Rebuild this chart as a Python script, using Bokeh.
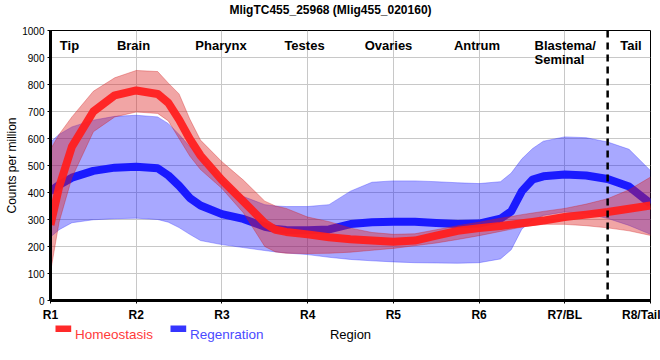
from bokeh.plotting import figure
from bokeh.layouts import column
from bokeh.models import Label, Span
from bokeh.core.properties import value
from bokeh.embed import file_html
from bokeh.resources import INLINE

# ---- data ----
pos = [1.0, 1.1, 1.25, 1.5, 1.75, 2.0, 2.25, 2.375, 2.5, 2.625, 2.75, 3.0, 3.25, 3.5, 3.625,
       3.75, 4.0, 4.25, 4.5, 4.75, 5.0, 5.25, 5.5, 5.75, 6.0, 6.25, 6.375, 6.5, 6.625, 6.75,
       7.0, 7.25, 7.5, 7.75, 8.0]

hom_mean = [280, 420, 570, 700, 760, 778, 765, 732, 670, 598, 537, 446, 367, 287, 262,
            254, 245, 234, 227, 222, 218, 222, 240, 258, 268, 276, 281, 286, 291, 296,
            309, 318, 328, 340, 352]
hom_hi = [560, 615, 680, 775, 825, 852, 848, 805, 765, 672, 594, 514, 446, 368, 350,
          341, 309, 292, 268, 252, 245, 247, 262, 277, 290, 305, 311, 318, 324, 330,
          341, 357, 377, 410, 457]
hom_lo = [105, 290, 455, 625, 680, 698, 693, 665, 600, 535, 485, 415, 325, 200, 180,
          175, 174, 175, 179, 186, 193, 203, 213, 226, 240, 256, 264, 272, 278, 282,
          282, 277, 269, 258, 241]

reg_mean = [405, 428, 455, 480, 492, 495, 490, 463, 425, 380, 352, 320, 302, 273, 265,
            261, 260, 263, 283, 290, 292, 292, 287, 283, 285, 303, 330, 405, 448, 460,
            467, 463, 450, 422, 359]
reg_hi = [587, 615, 643, 668, 682, 686, 680, 655, 615, 570, 530, 447, 385, 355, 350,
          348, 348, 355, 405, 438, 443, 443, 440, 436, 433, 440, 472, 525, 563, 590,
          606, 603, 587, 560, 481]
reg_lo = [235, 262, 288, 299, 303, 305, 300, 290, 270, 245, 222, 207, 196, 185, 180,
          176, 170, 160, 152, 147, 143, 140, 139, 138, 140, 154, 188, 265, 298, 315,
          328, 322, 304, 278, 245]

tick_pos = [1, 2, 3, 4, 5, 6, 7, 8]
tick_labels = ["R1", "R2", "R3", "R4", "R5", "R6", "R7/BL", "R8/Tail"]
y_ticks = list(range(0, 1001, 100))
region_names = ["Tip", "Brain", "Pharynx", "Testes", "Ovaries", "Antrum", "Blastema/", "Seminal", "Tail"]
tail_boundary = 7.5
series_names = ["Homeostasis", "Regenration"]
title_text = "MligTC455_25968 (Mlig455_020160)"

# ---- layout (pixels) ----
FW, FH = 600, 270
LEFT, RIGHT = 50, 10
TITLE_H = 22          # title strip height
TOP = 8               # main figure border above frame
BOTTOM = 22           # main figure border below frame
LEG_H = 38            # legend strip height
FRAME_TOP = TITLE_H + TOP
FONT = "Liberation Sans"


def px2x(px):
    return 1 + (px - LEFT) / FW * 7


def py2y(py):
    return (FRAME_TOP + FH - py) / FH * 1000


def strip(height):
    s = figure(frame_width=FW, frame_height=height, x_range=(1, 8), y_range=(height, 0),
               output_backend="svg", toolbar_location=None,
               x_axis_location=None, y_axis_location=None,
               min_border_left=LEFT, min_border_right=RIGHT,
               min_border_top=0, min_border_bottom=0)
    s.outline_line_color = None
    s.grid.visible = False
    s.background_fill_color = "white"
    s.border_fill_color = "white"
    return s


# ---- title strip ----
ttl = strip(TITLE_H)
ttl.text(x=[px2x(330)], y=[9.5], text=[title_text], text_color="black", text_align="center",
         text_baseline="alphabetic", text_font=value(FONT), text_font_style="bold",
         text_font_size="12px")

# ---- main plot ----
p = figure(frame_width=FW, frame_height=FH, x_range=(1, 8), y_range=(0, 1000),
           output_backend="svg", toolbar_location=None,
           min_border_left=LEFT, min_border_right=RIGHT,
           min_border_top=TOP, min_border_bottom=BOTTOM)
p.background_fill_color = "white"
p.border_fill_color = "white"
p.outline_line_color = "black"
p.outline_line_width = 1

p.xgrid.ticker = tick_pos
p.ygrid.ticker = y_ticks
p.xgrid.grid_line_color = "#c8c8c8"
p.ygrid.grid_line_color = "#c8c8c8"

p.xaxis.ticker = tick_pos
p.xaxis.major_label_overrides = {t: l for t, l in zip(tick_pos, tick_labels)}
p.xaxis.major_label_text_font = FONT
p.xaxis.major_label_text_font_style = "bold"
p.xaxis.major_label_text_font_size = "12px"
p.xaxis.major_label_text_color = "black"
p.xaxis.major_label_standoff = 4
p.yaxis.ticker = y_ticks
p.yaxis.major_label_text_font = FONT
p.yaxis.major_label_text_font_size = "10px"
p.yaxis.major_label_text_color = "black"
p.yaxis.major_label_standoff = 3
p.yaxis.axis_label = "Counts per million"
p.yaxis.axis_label_text_font = FONT
p.yaxis.axis_label_text_font_size = "12px"
p.yaxis.axis_label_text_font_style = "normal"
p.yaxis.axis_label_text_color = "black"
p.yaxis.axis_label_standoff = 0
for ax in (p.xaxis, p.yaxis):
    ax.axis_line_width = 3
    ax.axis_line_color = "black"
    ax.major_tick_out = 3
    ax.major_tick_in = 0
    ax.major_tick_line_color = "black"
    ax.minor_tick_line_color = None

BLUE = "#1a1aff"
RED = "#ff1f1f"
p.varea(x=pos, y1=reg_lo, y2=reg_hi, fill_color="#0000ff", fill_alpha=0.34)
p.line(pos, reg_hi, line_color="#3030ff", line_alpha=0.35, line_width=1)
p.line(pos, reg_lo, line_color="#3030ff", line_alpha=0.35, line_width=1)
p.line(pos, reg_mean, line_color=BLUE, line_width=8, line_join="round")

p.varea(x=pos, y1=hom_lo, y2=hom_hi, fill_color="#dc1e1e", fill_alpha=0.4)
p.line(pos, hom_hi, line_color="#d02020", line_alpha=0.35, line_width=1)
p.line(pos, hom_lo, line_color="#d02020", line_alpha=0.35, line_width=1)
p.line(pos, hom_mean, line_color=RED, line_alpha=0.95, line_width=8, line_join="round")

p.add_layout(Span(location=tail_boundary, dimension="height", line_color="black",
                  line_width=2.5, line_dash="7 5"))

region_px = [69, 133, 220.5, 304, 388, 476.5, 534, 534, 630.5]
region_py = [45, 45, 45, 45, 45, 45, 45, 59, 45]
for name, px, py in zip(region_names, region_px, region_py):
    align = "left" if name in ("Blastema/", "Seminal") else "center"
    p.add_layout(Label(x=px2x(px), y=py2y(py), text=name, text_align=align,
                       text_baseline="alphabetic", text_font=FONT,
                       text_font_style="bold", text_font_size="13px", text_color="black"))

# ---- legend strip (y measured from the strip's top) ----
leg = strip(LEG_H)
leg.quad(left=[px2x(55), px2x(170)], right=[px2x(70.7), px2x(185.7)],
         top=[1.0, 1.0], bottom=[7.6, 7.6],
         fill_color=[RED, "#2a2aff"], line_color=None, fill_alpha=0.95)
leg.text(x=[px2x(74.5), px2x(189.5)], y=[9.6, 9.6], text=series_names,
         text_color=["#ff3a3a", "#4a4aff"], text_align="left", text_baseline="alphabetic",
         text_font=value(FONT), text_font_size="13.5px")
leg.text(x=[4.5], y=[10.2], text=["Region"], text_color="black", text_align="center",
         text_baseline="alphabetic", text_font=value(FONT), text_font_size="13px")

layout = column(ttl, p, leg, spacing=0)
open("out.html", "w").write(file_html(layout, INLINE))
